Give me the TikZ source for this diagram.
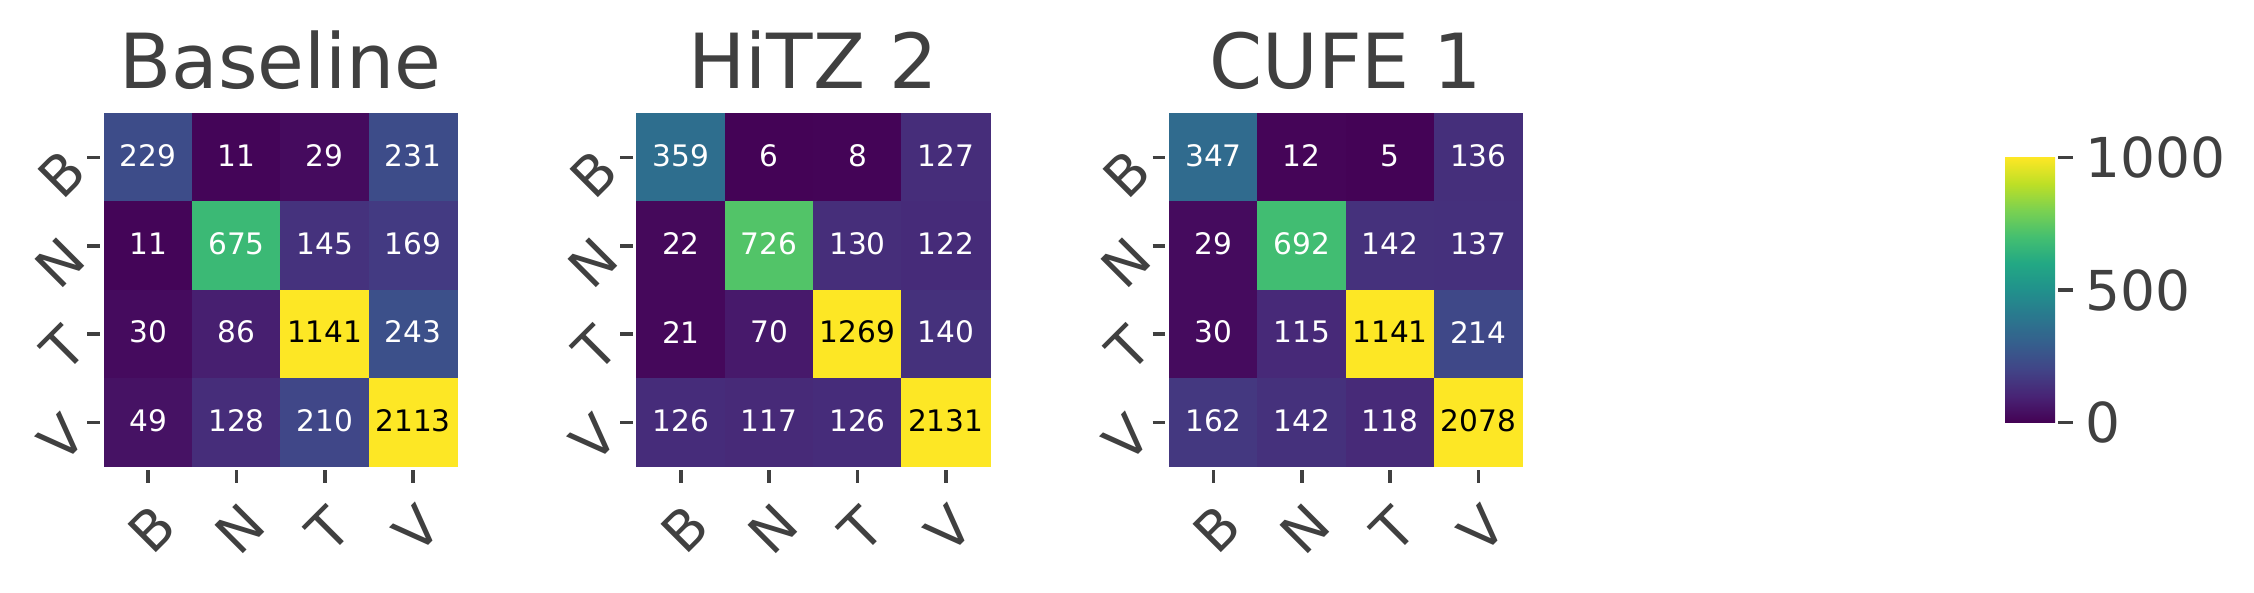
\documentclass[tikz,border=0pt]{standalone}
\usepackage{fontspec}
\setmainfont{DejaVu Sans}
\definecolor{axgray}{HTML}{404040}
\definecolor{vir0}{HTML}{440154}
\definecolor{vir1}{HTML}{482475}
\definecolor{vir2}{HTML}{414487}
\definecolor{vir3}{HTML}{355F8D}
\definecolor{vir4}{HTML}{2A788E}
\definecolor{vir5}{HTML}{21918C}
\definecolor{vir6}{HTML}{22A884}
\definecolor{vir7}{HTML}{44BF70}
\definecolor{vir8}{HTML}{7AD151}
\definecolor{vir9}{HTML}{BDDF26}
\definecolor{vir10}{HTML}{FDE725}
\pgfdeclareverticalshading{viridisbar}{100bp}{color(0bp)=(vir0); color(25bp)=(vir0);
  color(30bp)=(vir1); color(35bp)=(vir2); color(40bp)=(vir3); color(45bp)=(vir4);
  color(50bp)=(vir5); color(55bp)=(vir6); color(60bp)=(vir7); color(65bp)=(vir8);
  color(70bp)=(vir9); color(75bp)=(vir10); color(100bp)=(vir10)}
% #1 left edge, #2 id, #3 title, #4 rows of counts
\newcommand{\confmat}[4]{%
  \node[plottitle] (#2-title) at (#1+176.6,88.3) {#3};
  \foreach \row [count=\r from 0] in {#4} {
    \foreach \v [count=\c from 0] in \row {
      \pgfmathsetmacro\tval{min(\v,1000)/100}
      \pgfmathtruncatemacro\seg{min(floor(\tval),9)}
      \pgfmathtruncatemacro\nxt{\seg+1}
      \pgfmathtruncatemacro\pct{round((\tval-\seg)*100)}
      \colorlet{cellfill}{vir\nxt!\pct!vir\seg}
      \ifnum\v<1000 \def\txtcol{white}\else\def\txtcol{black}\fi
      \filldraw[cellfill, line width=0.3pt] (#1+\c*88.3,113.3+\r*88.3) rectangle ++(88.3,88.3);
      \node[celltext, text=\txtcol] (#2-\r-\c) at (#1+\c*88.3+44.15,113.3+\r*88.3+42.2) {\v};
    }
  }
  \foreach \lab [count=\k from 0] in {B,N,T,V} {
    \draw[tickline] (#1-16.7,157.45+\k*88.3) -- ++(12.7,0);
    \node[ticklab, anchor=east, rotate=45] (#2-y\k) at (#1-29,160+\k*88.3) {\lab};
    \draw[tickline] (#1+44.15+\k*88.3,470.3) -- ++(0,13);
    \node[ticklab, rotate=45] (#2-x\k) at (#1+47.5+\k*88.3,529) {\lab};
  }
}
\begin{document}
\begin{tikzpicture}[x=0.5pt,y=-0.5pt,
  plottitle/.style={font=\fontsize{38}{46}\selectfont, text=axgray, anchor=base, inner sep=0pt},
  ticklab/.style={font=\fontsize{27.5}{33}\selectfont, text=axgray, inner sep=0pt},
  celltext/.style={font=\fontsize{14.8}{18}\selectfont, inner sep=0pt},
  tickline/.style={draw=axgray, line width=1.8pt}]
\useasboundingbox (0,0) rectangle (2254,593);

\confmat{104}{base}{Baseline}{{229,11,29,231},{11,675,145,169},{30,86,1141,243},{49,128,210,2113}}
\confmat{636.7}{hitz}{HiTZ 2}{{359,6,8,127},{22,726,130,122},{21,70,1269,140},{126,117,126,2131}}
\confmat{1169.3}{cufe}{CUFE 1}{{347,12,5,136},{29,692,142,137},{30,115,1141,214},{162,142,118,2078}}

% colour bar
\shade[shading=viridisbar] (2005,157.5) rectangle (2055,422.5);
\draw[tickline] (2058.3,157.5) -- (2073.3,157.5);
\draw[tickline] (2058.3,290) -- (2073.3,290);
\draw[tickline] (2058.3,422.5) -- (2073.3,422.5);
\node[ticklab, anchor=west] (cb-1000) at (2085,157.5) {1000};
\node[ticklab, anchor=west] (cb-500) at (2085,290) {500};
\node[ticklab, anchor=west] (cb-0) at (2085,422.5) {0};
\end{tikzpicture}
\end{document}
